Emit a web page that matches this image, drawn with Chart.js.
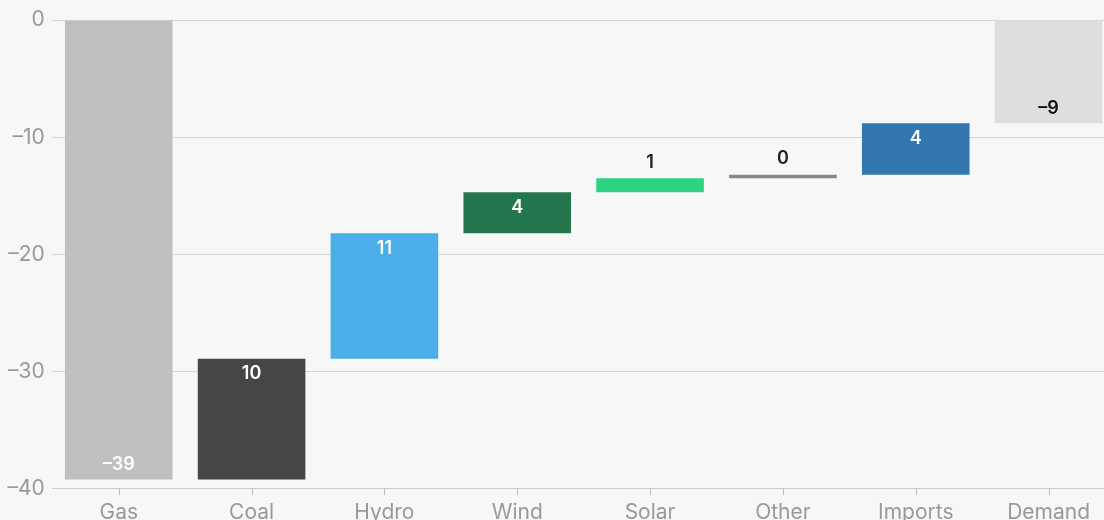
<!DOCTYPE html>
<html>
<head>
<meta charset="utf-8">
<script src="https://cdn.jsdelivr.net/npm/chart.js@4/dist/chart.umd.min.js"></script>
<style>
  html, body { margin: 0; padding: 0; background: #f7f7f7; overflow: hidden; }
  #wrap { width: 1115px; height: 528px; }
</style>
</head>
<body>
<div id="wrap"><canvas id="myChart"></canvas></div>
<script>
const categories = ['Gas', 'Coal', 'Hydro', 'Wind', 'Solar', 'Other', 'Imports', 'Demand'];
const barStart = [0, -39.2, -28.9, -18.2, -14.7, -13.5, -13.2, -8.8];
const barEnd = [-39.2, -28.9, -18.2, -14.7, -13.5, -13.2, -8.8, 0];
const changeLabels = ['-39', '10', '11', '4', '1', '0', '4', '-9'];
const barColors = ['#bfbfbf', '#464646', '#4aaee8', '#24774c', '#2dd383', '#888888', '#3277b0', '#dedede'];
const labelColors = ['#ffffff', '#ffffff', '#ffffff', '#ffffff', '#222222', '#222222', '#ffffff', '#111111'];
const yTicks = [0, -10, -20, -30, -40];

const ranges = barStart.map((s, i) => [s, barEnd[i]]);

// change value: inside the bar at its moving end, above it when the bar is too thin
const endLabels = {
    id: 'endLabels',
    afterDatasetsDraw(chart) {
        const ctx = chart.ctx;
        const meta = chart.getDatasetMeta(0);
        const y = chart.scales.y;
        ctx.save();
        ctx.font = '600 18px Inter, "Noto Sans", sans-serif';
        ctx.textAlign = 'center';
        ctx.textBaseline = 'middle';
        meta.data.forEach((bar, i) => {
            const top = Math.min(y.getPixelForValue(barStart[i]), y.getPixelForValue(barEnd[i]));
            const bottom = Math.max(y.getPixelForValue(barStart[i]), y.getPixelForValue(barEnd[i]));
            const negative = changeLabels[i].startsWith('-');
            let ty;
            if (bottom - top < 30) {
                ty = top - 16;
            } else if (negative) {
                ty = bottom - 15;
            } else {
                ty = top + 15;
            }
            ctx.fillStyle = bottom - top < 30 ? '#222222' : labelColors[i];
            ctx.fillText(changeLabels[i].replace('-', '\u2013'), bar.x, ty);
        });
        ctx.restore();
    }
};

// small tick marks under the x axis at each category centre
const xTickMarks = {
    id: 'xTickMarks',
    afterDraw(chart) {
        const ctx = chart.ctx;
        const x = chart.scales.x;
        ctx.save();
        ctx.strokeStyle = '#bbbbbb';
        ctx.lineWidth = 1;
        categories.forEach((c, i) => {
            const px = Math.round(x.getPixelForValue(i)) + 0.5;
            ctx.beginPath();
            ctx.moveTo(px, x.top);
            ctx.lineTo(px, x.top + 6);
            ctx.stroke();
        });
        ctx.restore();
    }
};

const config = {
    type: 'bar',
    data: {
        labels: categories,
        datasets: [{
            data: ranges,
            backgroundColor: barColors,
            borderWidth: 0,
            categoryPercentage: 0.9,
            barPercentage: 0.9
        }]
    },
    options: {
        responsive: true,
        maintainAspectRatio: false,
        animation: false,
        layout: { padding: { top: 14, right: 0, left: 0, bottom: 0 } },
        plugins: {
            legend: { display: false },
            tooltip: { enabled: false }
        },
        scales: {
            x: {
                grid: { display: false },
                border: { display: true, color: '#cccccc' },
                ticks: { color: '#999999', font: { family: 'Inter', size: 21 }, padding: 3 }
            },
            y: {
                min: -40,
                max: 0,
                afterBuildTicks: (axis) => { axis.ticks = yTicks.map(v => ({ value: v })); },
                grid: { color: '#d4d4d4', drawTicks: false },
                border: { display: false },
                ticks: {
                    color: '#999999',
                    font: { family: 'Inter', size: 21 },
                    padding: 7.5,
                    callback: (v) => String(v).replace('-', '\u2013')
                }
            }
        }
    },
    plugins: [endLabels, xTickMarks]
};

new Chart(document.getElementById('myChart'), config);
</script>
</body>
</html>
